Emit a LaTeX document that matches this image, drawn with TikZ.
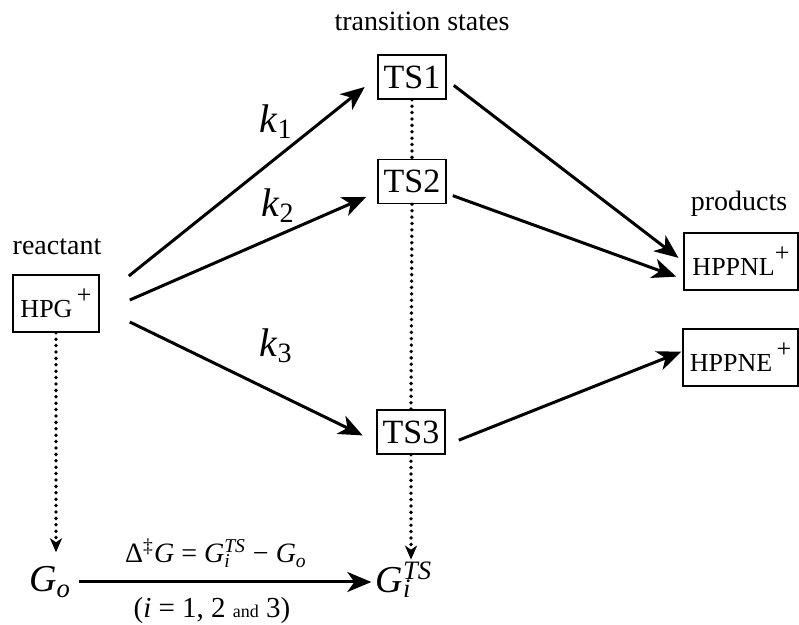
\documentclass[tikz,border=0pt]{standalone}
\usepackage{fontspec}
\setmainfont{Liberation Serif}
\usetikzlibrary{arrows.meta}
\newcommand{\stsub}[2]{\rlap{\textsubscript{#1}}\textsuperscript{#2}}

\begin{document}
\begin{tikzpicture}[x=0.5pt,y=-0.5pt,
	box/.style={draw,line width=0.8pt,inner sep=0pt},
	tsbox/.style={box,minimum width=34pt,minimum height=22pt,font=\fontsize{17}{19}\selectfont},
	prodbox/.style={box,minimum height=28.5pt,font=\fontsize{13}{15}\selectfont},
	lbl/.style={font=\fontsize{14}{16}\selectfont},
	rate/.style={font=\fontsize{20}{22}\selectfont},
	bigG/.style={font=\fontsize{19}{21}\selectfont,inner sep=0pt},
	rx/.style={line width=1.5pt,-{Stealth[length=12pt,width=10pt,inset=3.5pt]}},
	dots/.style={line width=1.9pt,line cap=round,dash pattern=on 0pt off 3.2pt},
	dotarr/.style={dots,-{Stealth[length=7pt,width=6pt,inset=2pt]}}]
	\useasboundingbox (0,0) rectangle (799,625);
	% labels
	\node[lbl] (lts) at (422,21) {transition states};
	\node[lbl] (lre) at (57,247) {reactant};
	\node[lbl] (lpr) at (739,204) {products};
	% species
	\node[box,minimum width=43pt,minimum height=28.5pt,font=\fontsize{13}{15}\selectfont] (hpg) at (56,303.5) {HPG\raisebox{0.55em}{\,+}};
	\node[tsbox] (ts1) at (412,77) {TS1};
	\node[tsbox] (ts2) at (412,181.5) {TS2};
	\node[tsbox] (ts3) at (411,432) {TS3};
	\node[prodbox,minimum width=57pt] (hnl) at (741,261.5) {HPPNL\raisebox{0.55em}{+}};
	\node[prodbox,minimum width=57.5pt] (hne) at (740.5,357.5) {HPPNE\raisebox{0.55em}{\,+}};
	\node[bigG] (go) at (50,582) {\textit{G}\textsubscript{\textit{o}}};
	\node[bigG] (gi) at (404,580) {\textit{G}\stsub{\textit{i}}{\textit{TS}}};
	% rate constants
	\node[rate] (k1) at (276,122) {\textit{k}\textsubscript{1}};
	\node[rate] (k2) at (278,206) {\textit{k}\textsubscript{2}};
	\node[rate] (k3) at (276,346) {\textit{k}\textsubscript{3}};
	% start points
	\coordinate (a1) at ([xshift=14.5pt,yshift=13.75pt]hpg.east);
	\coordinate (a2) at ([xshift=15pt,yshift=1.75pt]hpg.east);
	\coordinate (a3) at ([xshift=15pt,yshift=-9.25pt]hpg.east);
	% reactions
	\draw[rx,shorten >=8pt] (a1) -- (ts1.west);
	\draw[rx,shorten >=6pt] (a2) -- (ts2.197.5);
	\draw[rx,shorten >=7.5pt] (a3) -- (ts3.196);
	\draw[rx,shorten <=4.4pt,shorten >=3pt] (ts1.355.5) -- (hnl.west);
	\draw[rx,shorten <=3.2pt,shorten >=3.7pt] (ts2.341.6) -- (hnl.197.5);
	\draw[rx,shorten <=7pt,shorten >=0.5pt] (ts3.339) -- (hne.174.1);
	% energies
	\draw[dots] (ts1.south) -- (ts2.north);
	\draw[dots] (ts2.south) -- (ts3.north);
	\draw[dotarr,shorten >=1pt] (ts3.south) -- (ts3.south |- gi.north);
	\draw[dotarr,shorten >=7pt] (hpg.south) -- (hpg.south |- go.north);
	\draw[rx,shorten <=4pt,shorten >=2pt] (go.east) -- (go.east -| gi.west);
	\node[lbl] (dg) at (216,553) {Δ\textsuperscript{‡}\textit{G} = \textit{G}\stsub{\textit{i}}{\textit{TS}} − \textit{G}\textsubscript{\textit{o}}};
	\node[font=\fontsize{14.5}{16}\selectfont] (ii) at (212,611) {(\textit{i} = 1, 2 {\small and} 3)};
\end{tikzpicture}
\end{document}
